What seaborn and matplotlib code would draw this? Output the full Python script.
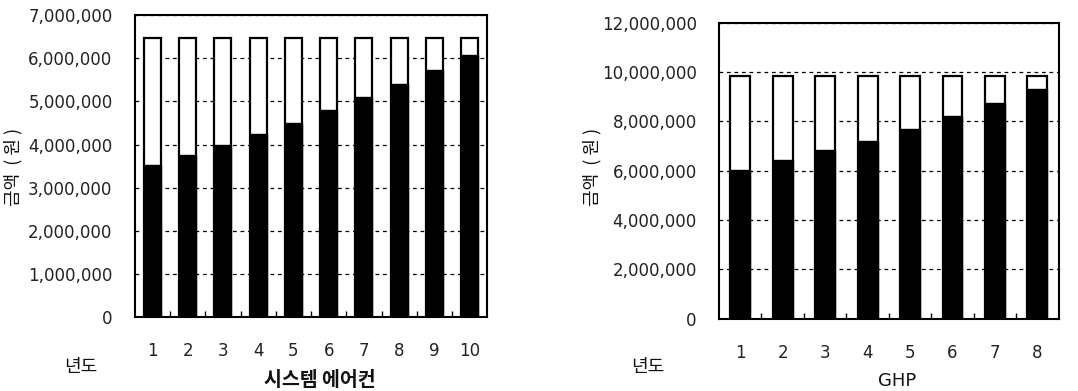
import matplotlib
matplotlib.use("Agg")
import matplotlib.pyplot as plt
import seaborn as sns
import pandas as pd
from matplotlib.ticker import FuncFormatter, MultipleLocator

# 시스템 에어컨: yearly values (total and accumulated cost)
sys_years = [1, 2, 3, 4, 5, 6, 7, 8, 9, 10]
sys_total = [6460000, 6460000, 6460000, 6460000, 6460000,
             6460000, 6460000, 6460000, 6460000, 6460000]
sys_cost = [3520000, 3760000, 3980000, 4240000, 4490000,
            4800000, 5100000, 5400000, 5730000, 6070000]

# GHP: yearly values (total and accumulated cost)
ghp_years = [1, 2, 3, 4, 5, 6, 7, 8]
ghp_total = [9840000, 9840000, 9840000, 9840000,
             9840000, 9840000, 9840000, 9840000]
ghp_cost = [6040000, 6420000, 6850000, 7200000,
            7690000, 8220000, 8760000, 9300000]

sns.set_theme(style="white")
plt.rcParams["font.family"] = ["DejaVu Sans", "Noto Sans CJK KR"]

fig = plt.figure(figsize=(10.78, 3.91), dpi=100)
ax1 = fig.add_axes([0.125, 0.188, 0.327, 0.774])
ax2 = fig.add_axes([0.667, 0.185, 0.315, 0.757])

comma = FuncFormatter(lambda v, p: f"{int(v):,}")


def draw(ax, years, total, cost, ymax, step, width):
    df = pd.DataFrame({"year": [str(y) for y in years],
                       "total": total, "cost": cost})
    sns.barplot(data=df, x="year", y="total", color="white",
                edgecolor="black", linewidth=1.6, width=width,
                saturation=1, ax=ax)
    sns.barplot(data=df, x="year", y="cost", color="black",
                edgecolor="black", linewidth=1.0, width=width,
                saturation=1, ax=ax)
    ax.set_ylim(0, ymax)
    ax.set_xlim(-0.5, len(years) - 0.5)
    ax.yaxis.set_major_locator(MultipleLocator(step))
    ax.yaxis.set_major_formatter(comma)
    ax.set_xlabel("")
    ax.set_ylabel("")
    ax.set_axisbelow(True)
    ax.grid(axis="y", color="black", linestyle=(0, (3, 3)), linewidth=0.9)
    ax.grid(axis="x", visible=False)
    for s in ax.spines.values():
        s.set_visible(True)
        s.set_color("black")
        s.set_linewidth(1.5)
    ax.tick_params(axis="y", length=0, pad=16, labelsize=12,
                   colors="#222222")
    ax.tick_params(axis="x", length=0, pad=18, labelsize=12,
                   colors="#222222")
    ax.set_xticks(range(len(years)), [str(y) for y in years])
    ax.set_xticks([i + 0.5 for i in range(len(years) - 1)], minor=True)
    ax.tick_params(axis="x", which="minor", direction="in", length=4,
                   width=1.0, color="black", bottom=True)


draw(ax1, sys_years, sys_total, sys_cost, 7000000, 1000000, 0.48)
draw(ax2, ghp_years, ghp_total, ghp_cost, 12000000, 2000000, 0.47)

kfont = dict(family=["Noto Sans CJK KR", "DejaVu Sans"], color="#111111")
fig.text(0.012, 0.573, "금액  ( 원 )", rotation=90, ha="center",
         va="center", fontsize=13, **kfont)
fig.text(0.549, 0.573, "금액  ( 원 )", rotation=90, ha="center",
         va="center", fontsize=13, **kfont)
fig.text(0.075, 0.061, "년도", ha="center", va="center", fontsize=13,
         **kfont)
fig.text(0.297, 0.026, "시스템 에어컨", ha="center", va="center",
         fontsize=14, fontweight="bold", **kfont)
fig.text(0.601, 0.061, "년도", ha="center", va="center", fontsize=13,
         **kfont)
fig.text(0.832, 0.026, "GHP", ha="center", va="center",
         family="DejaVu Sans", fontsize=13, color="#111111")

fig.savefig("out.png", dpi=100)
